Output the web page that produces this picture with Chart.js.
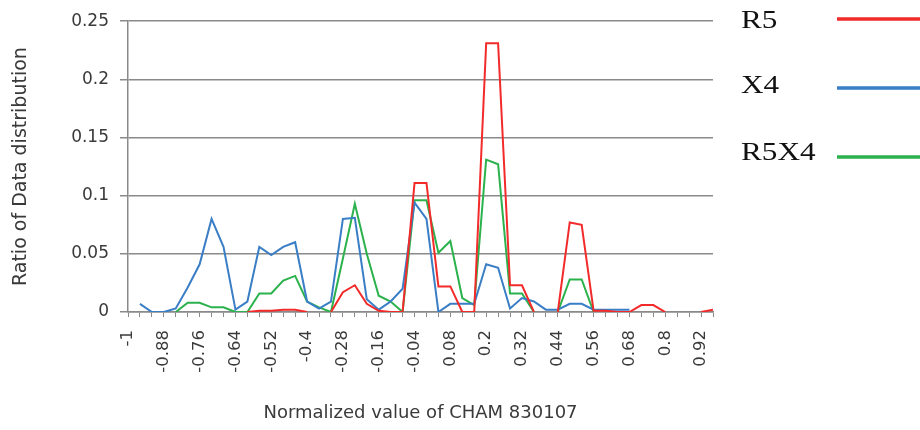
<!DOCTYPE html>
<html>
<head>
<meta charset="utf-8">
<script src="https://cdn.jsdelivr.net/npm/chart.js@4.4.1/dist/chart.umd.min.js"></script>
<style>
  html, body { margin: 0; padding: 0; background: #fff; }
  canvas { display: block; }
</style>
</head>
<body>
<canvas id="distChart" width="920" height="430"></canvas>
<script>
// normalized CHAM 830107 values, step 0.04
const categories = [
  '-1', '-0.96', '-0.92', '-0.88', '-0.84', '-0.8', '-0.76', '-0.72', '-0.68', '-0.64',
  '-0.6', '-0.56', '-0.52', '-0.48', '-0.44', '-0.4', '-0.36', '-0.32', '-0.28', '-0.24',
  '-0.2', '-0.16', '-0.12', '-0.08', '-0.04', '0', '0.04', '0.08', '0.12', '0.16',
  '0.2', '0.24', '0.28', '0.32', '0.36', '0.4', '0.44', '0.48', '0.52', '0.56',
  '0.6', '0.64', '0.68', '0.72', '0.76', '0.8', '0.84', '0.88', '0.92', '0.96'
];

const r5 = [
  null, null, null, null, null, null, null, null, null, null,
  0, 0.001, 0.001, 0.002, 0.002, 0, null, 0, 0.017, 0.023,
  0.007, 0.001, 0, 0, 0.111, 0.111, 0.022, 0.022, 0, 0,
  0.231, 0.231, 0.023, 0.023, 0, null, 0, 0.077, 0.075, 0.001,
  0.001, 0, 0, 0.006, 0.006, 0, null, null, 0, 0.002
];

const x4 = [
  null, 0.007, 0, 0, 0.003, 0.021, 0.041, 0.080, 0.056, 0.002,
  0.009, 0.056, 0.049, 0.056, 0.060, 0.009, 0.003, 0.009, 0.080, 0.081,
  0.011, 0.002, 0.009, 0.020, 0.094, 0.080, 0, 0.007, 0.007, 0.007,
  0.041, 0.038, 0.003, 0.012, 0.009, 0.002, 0.002, 0.007, 0.007, 0.002,
  0.002, 0.002, 0.002, null, null, null, null, null, null, null
];

const r5x4 = [
  null, null, null, null, 0, 0.008, 0.008, 0.004, 0.004, 0,
  0, 0.016, 0.016, 0.027, 0.031, 0.009, 0.004, 0, 0.046, 0.093,
  0.050, 0.014, 0.009, 0, 0.096, 0.096, 0.051, 0.061, 0.012, 0.006,
  0.131, 0.127, 0.016, 0.016, 0, null, 0, 0.028, 0.028, 0,
  null, null, null, null, null, null, null, null, null, null
];

const seriesNames = ['R5', 'X4', 'R5X4'];
const seriesColors = ['#f22a2a', '#3a7ec6', '#2bb24c'];
const yTicks = [0, 0.05, 0.1, 0.15, 0.2, 0.25];

const axisGray = '#8a8a8a';
const textGray = '#3a3a3a';
const sans = '"DejaVu Sans", sans-serif';

// legend drawn to the right: name then a line sample
const sideLegend = {
  id: 'sideLegend',
  afterDraw(chart) {
    const ctx = chart.ctx;
    const textRows = [21, 86, 153];
    const lineRows = [19, 88, 157];
    ctx.save();
    chart.data.datasets.forEach((ds, i) => {
      ctx.save();
      ctx.translate(741, textRows[i]);
      ctx.scale(1.2, 1);
      ctx.fillStyle = '#111';
      ctx.font = '26px "Liberation Serif", "Times New Roman", serif';
      ctx.textBaseline = 'middle';
      ctx.fillText(ds.label, 0, 0);
      ctx.restore();
      ctx.strokeStyle = ds.borderColor;
      ctx.lineWidth = 3.5;
      ctx.beginPath();
      ctx.moveTo(837, lineRows[i]);
      ctx.lineTo(920, lineRows[i]);
      ctx.stroke();
    });
    ctx.restore();
  }
};

const ctx = document.getElementById('distChart').getContext('2d');
const distChart = new Chart(ctx, {
  type: 'line',
  data: {
    labels: categories,
    datasets: [r5, x4, r5x4].map((vals, i) => ({
      label: seriesNames[i],
      data: vals,
      borderColor: seriesColors[i],
      backgroundColor: seriesColors[i],
      borderWidth: 2,
      pointRadius: 0,
      tension: 0,
      spanGaps: false
    }))
  },
  options: {
    responsive: false,
    animation: false,
    devicePixelRatio: 1,
    layout: { padding: { left: 0, right: 207, top: 20, bottom: 0 } },
    plugins: {
      legend: { display: false },
      tooltip: { enabled: false }
    },
    scales: {
      x: {
        offset: false,
        afterFit: s => { s.height = 118; },
        grid: { drawOnChartArea: false, drawTicks: true, tickLength: 5, color: axisGray, lineWidth: 1 },
        border: { display: true, color: axisGray, width: 1.5 },
        ticks: {
          autoSkip: false,
          maxRotation: 90,
          minRotation: 90,
          padding: 13,
          color: textGray,
          font: { family: sans, size: 16.5 },
          callback: (v, i) => (i % 3 === 0 ? categories[i] : '')
        },
        title: {
          display: true,
          text: 'Normalized value of CHAM 830107',
          color: textGray,
          font: { family: sans, size: 18 },
          padding: { top: 0, bottom: 6 }
        }
      },
      y: {
        min: 0,
        max: 0.25,
        afterFit: s => { s.width = 128; },
        afterBuildTicks: s => { s.ticks = yTicks.map(v => ({ value: v })); },
        grid: { color: axisGray, lineWidth: 1.5, tickLength: 8 },
        border: { display: true, color: axisGray, width: 1.5 },
        ticks: {
          padding: 11,
          color: textGray,
          font: { family: sans, size: 17 },
          callback: v => String(v)
        },
        title: {
          display: true,
          text: 'Ratio of Data distribution',
          color: textGray,
          font: { family: sans, size: 19 },
          padding: { top: 10, bottom: 0 }
        }
      }
    }
  },
  plugins: [sideLegend]
});
</script>
</body>
</html>
